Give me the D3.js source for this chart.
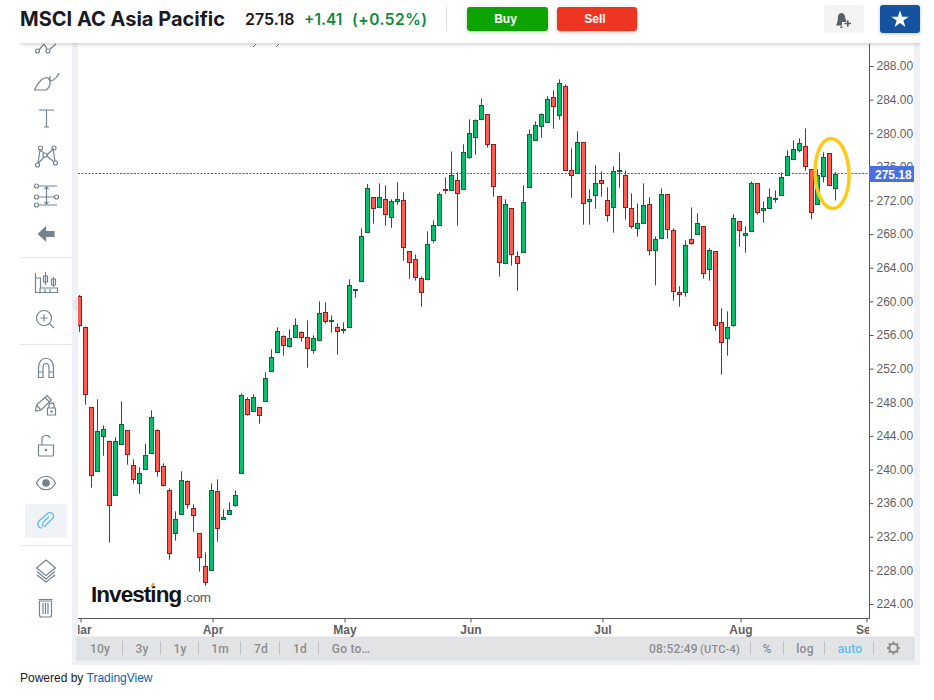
<!DOCTYPE html>
<html>
<head>
<meta charset="utf-8">
<script src="https://cdnjs.cloudflare.com/ajax/libs/d3/7.8.5/d3.min.js"></script>
<style>
  html, body { margin: 0; padding: 0; background: #fff; }
  svg { display: block; }
</style>
</head>
<body>
<script>
let w = 934;
let h = 700;

let open = [260.60,256.91,247.39,239.78,243.94,243.35,236.93,242.99,244.66,240.49,238.35,240.02,241.92,244.66,240.38,237.52,232.41,234.67,238.59,235.38,232.41,228.48,228.00,237.40,234.07,234.67,235.74,239.54,248.35,246.92,247.39,248.11,251.68,
  253.94,255.84,254.65,255.72,256.31,255.72,254.17,255.36,258.69,257.62,256.91,256.55,256.91,261.31,262.38,268.21,272.37,271.18,272.14,269.99,271.90,272.02,265.95,265.00,262.74,262.62,267.26,269.04,
  273.32,273.21,274.40,273.32,277.13,279.51,281.65,282.25,278.68,272.49,264.52,271.06,265.35,265.83,273.56,279.15,280.82,281.29,284.27,282.13,285.58,275.58,275.23,278.92,271.90,272.61,274.40,272.02,271.18,275.55,274.99,271.06,268.69,
  269.28,271.54,266.07,267.50,272.73,268.45,261.07,261.07,267.38,267.97,268.92,263.81,265.95,257.50,255.60,257.15,269.52,267.85,268.33,274.04,270.83,271.06,272.21,272.61,274.99,276.89,277.96,278.44,275.70,271.54,274.87,277.61,273.56];
let high = [260.76,257.03,247.39,248.35,245.25,243.43,243.83,248.11,244.66,241.21,240.26,243.03,247.04,244.78,240.73,237.76,235.02,239.78,238.71,235.86,232.41,230.15,238.35,238.83,235.26,236.09,237.52,249.06,248.58,248.94,247.39,251.56,254.29,
  256.91,255.96,256.67,257.98,256.43,257.74,255.96,260.00,259.88,258.34,257.39,257.50,262.62,261.43,268.69,273.96,272.37,274.04,273.80,272.14,274.16,272.97,265.95,265.59,262.98,268.33,269.64,272.97,
  274.75,277.84,275.35,278.68,281.65,281.65,284.15,282.25,278.68,272.49,272.14,271.06,265.95,273.80,280.46,281.41,282.36,284.39,285.10,286.41,285.81,278.20,280.22,278.92,273.32,276.18,275.47,273.56,276.06,277.73,275.58,272.85,271.66,
  274.04,272.37,267.73,273.44,272.73,268.69,261.79,267.26,271.18,270.47,268.92,266.31,265.95,259.17,258.81,270.35,269.52,268.92,274.28,274.04,271.90,273.44,273.21,275.35,277.96,279.15,279.39,280.58,275.70,275.70,277.73,277.61,275.35];
let low = [256.39,247.71,237.84,239.78,241.64,231.30,236.93,242.99,240.57,238.31,237.12,240.02,241.92,239.15,237.96,229.27,231.53,234.67,235.34,232.60,227.85,226.18,228.00,231.41,234.07,234.67,235.58,239.54,246.40,246.92,245.45,248.11,251.68,
  253.94,253.54,254.49,255.72,255.20,252.11,253.78,255.36,257.35,256.28,253.66,256.16,256.91,260.44,262.38,268.21,269.24,271.18,269.00,268.76,271.50,264.84,262.70,262.46,259.37,262.62,266.98,269.04,
  272.81,273.21,269.00,273.32,276.97,277.45,281.65,278.28,272.45,262.94,264.52,264.25,261.27,265.83,273.56,279.15,279.47,281.29,280.54,281.61,275.58,272.33,275.23,269.12,269.12,271.02,272.45,269.48,268.17,273.52,269.72,268.65,267.69,
  269.28,265.47,261.91,267.50,267.46,260.08,259.37,260.56,266.74,267.97,262.70,262.46,256.51,251.28,253.54,256.99,266.50,265.79,268.33,270.31,269.36,271.06,271.74,272.61,274.99,276.89,277.73,275.55,269.76,271.54,274.16,273.80,272.02];
let close = [257.15,248.94,239.30,244.54,244.78,235.74,243.35,245.37,241.80,238.83,239.54,241.68,246.20,239.78,238.12,230.03,234.07,238.71,235.86,234.55,229.55,226.58,237.52,233.00,234.31,235.14,236.93,248.82,246.56,248.58,246.44,250.84,253.34,
  256.43,254.77,255.60,257.15,255.72,254.41,255.60,258.57,257.62,257.74,256.43,256.67,261.91,261.43,267.73,273.44,271.06,272.37,270.35,271.90,272.14,266.43,264.64,262.86,261.07,266.78,269.04,272.73,
  273.21,274.99,272.85,277.73,279.99,281.53,283.32,278.68,273.68,264.64,271.54,265.59,264.52,271.78,279.87,280.94,282.25,284.03,283.20,285.93,275.58,274.99,278.92,271.66,272.14,274.04,274.04,270.23,275.47,275.58,271.18,268.92,269.28,
  271.42,266.07,267.38,272.73,268.57,261.19,260.83,266.66,266.90,269.28,263.33,266.07,257.15,255.13,256.91,269.88,268.45,268.09,274.04,270.59,271.06,272.37,272.25,274.75,277.25,278.08,278.80,276.06,270.59,274.99,277.13,273.80,275.18];

let priceTicks = [224,228,232,236,240,244,248,252,256,260,264,268,272,276,280,284,288];
let monthLabels = ["Mar","Apr","May","Jun","Jul","Aug","Sep"];
let monthIndex = [0,22,44,65,87,110,131];
let rangeButtons = ["10y","3y","1y","1m","7d","1d","Go to…"];
let rangeCenters = [100,142,180,220,261,300,351];
let rangeSeps = [122.5,160.5,198.5,240.5,279.5,318.5];
let lastPrice = 275.18;

let sansFont = "'Liberation Sans', Arial, sans-serif";
let upFill = "#04c06b", upLine = "#12603e";
let downFill = "#ff5b50", downLine = "#8c1f20";
let iconColor = "#75838f";

let svg = d3.select("body").append("svg").attr("width", w).attr("height", h);
let defs = svg.append("defs");

let shadow = defs.append("filter").attr("id", "shadow").attr("x", "-5%").attr("y", "-20%").attr("width", "110%").attr("height", "160%");
shadow.append("feDropShadow").attr("dx", 0).attr("dy", 1).attr("stdDeviation", 2).attr("flood-color", "#000").attr("flood-opacity", 0.22);

defs.append("clipPath").attr("id", "plot").append("rect").attr("x", 78).attr("y", 44).attr("width", 791).attr("height", 574);
defs.append("clipPath").attr("id", "timeStrip").append("rect").attr("x", 77).attr("y", -6).attr("width", 791).attr("height", 26);

// chart frame
svg.append("rect").attr("x", 72).attr("y", 40).attr("width", 848).attr("height", 625).attr("fill", "#eff1f6");
svg.append("rect").attr("x", 78).attr("y", 40).attr("width", 836).attr("height", 597).attr("fill", "#fff");
svg.append("rect").attr("x", 77).attr("y", 637).attr("width", 837).attr("height", 23).attr("fill", "#e2e3e5").attr("stroke", "#d6d8dc").attr("stroke-width", 0.6);

let xScale = d3.scaleLinear().domain([0, open.length - 1]).range([79.5, 835.5]);
let yScale = d3.scaleLinear().domain([224, 288]).range([604, 66]);

// last price line
svg.append("line")
  .attr("x1", 78).attr("x2", 869)
  .attr("y1", Math.floor(yScale(lastPrice)) + 0.5).attr("y2", Math.floor(yScale(lastPrice)) + 0.5)
  .attr("stroke", "#3f5fd0").attr("stroke-width", 1).attr("stroke-dasharray", "2,1.5");

// candles
let candles = svg.append("g").attr("clip-path", "url(#plot)")
  .selectAll("g").data(open).enter().append("g");

candles.append("line")
  .attr("x1", (d, i) => xScale(i)).attr("x2", (d, i) => xScale(i))
  .attr("y1", (d, i) => yScale(high[i])).attr("y2", (d, i) => yScale(low[i]))
  .attr("stroke", upLine).attr("stroke-width", 1);

candles.append("rect")
  .attr("x", (d, i) => xScale(i) - 2)
  .attr("y", (d, i) => Math.round(yScale(Math.max(d, close[i]))) + 0.5)
  .attr("width", 4)
  .attr("height", (d, i) => Math.max(1, Math.round(Math.abs(yScale(d) - yScale(close[i])))))
  .attr("fill", (d, i) => (close[i] >= d ? upFill : downFill))
  .attr("stroke", (d, i) => (close[i] >= d ? upLine : downLine))
  .attr("stroke-width", 1);

// hand drawn ring round the last candles
svg.append("ellipse")
  .attr("cx", 832).attr("cy", 173.5).attr("rx", 17).attr("ry", 35)
  .attr("fill", "none").attr("stroke", "#fdcb16").attr("stroke-width", 3.5)
  .attr("transform", "rotate(-2 832 173.5)");

// axes
let yAxis = d3.axisRight(yScale).tickValues(priceTicks).tickSize(4).tickPadding(3).tickFormat((d) => d.toFixed(2));
let gy = svg.append("g").attr("transform", "translate(869.5,0)").call(yAxis);
gy.select(".domain").remove();
gy.selectAll("line").attr("stroke", "#555");
gy.selectAll("text").attr("fill", "#5f5f5f").style("font-family", sansFont).style("font-size", "12px");
svg.append("line").attr("x1", 869.5).attr("x2", 869.5).attr("y1", 44).attr("y2", 618.5).attr("stroke", "#555");

let xAxis = d3.axisBottom(xScale).tickValues(monthIndex).tickSize(4).tickPadding(3).tickFormat((d, i) => monthLabels[i]);
let gx = svg.append("g").attr("transform", "translate(1,618.5)").attr("clip-path", "url(#timeStrip)").call(xAxis);
gx.select(".domain").remove();
gx.selectAll("line").attr("stroke", "#555");
gx.selectAll("text").attr("fill", "#5f5f5f").style("font-family", sansFont).style("font-size", "12px").style("font-weight", "bold");
svg.append("line").attr("x1", 78).attr("x2", 869.5).attr("y1", 618.5).attr("y2", 618.5).attr("stroke", "#555");

// price label
svg.append("rect").attr("x", 869).attr("y", 166).attr("width", 45).attr("height", 16).attr("fill", "#4a6fe3");
svg.append("text").attr("x", 875).attr("y", 178.5).attr("fill", "#fff")
  .style("font-family", sansFont).style("font-size", "12px").style("font-weight", "bold")
  .text(lastPrice.toFixed(2));

// logo
svg.append("text").attr("x", 91).attr("y", 602).attr("fill", "#141414")
  .style("font-family", sansFont).style("font-size", "22.5px").style("font-weight", "bold").style("letter-spacing", "-0.95px")
  .text("Investing");
svg.append("text").attr("x", 183).attr("y", 602).attr("fill", "#555")
  .style("font-family", sansFont).style("font-size", "13.5px").style("letter-spacing", "-0.4px")
  .text(".com");
svg.append("path").attr("d", "M150.5 586.5 L152.5 583 L155 583.5 L153 587 Z").attr("fill", "#f7a823");

// time strip buttons
let stripText = (x, t, color, anchor, size) =>
  svg.append("text").attr("x", x).attr("y", 652.5).attr("text-anchor", anchor || "middle").attr("fill", color || "#8d8d8d")
    .style("font-family", "'Roboto', sans-serif").style("font-size", (size || 12) + "px").style("font-weight", "500").style("letter-spacing", "0.2px").text(t);

rangeButtons.forEach((t, i) => stripText(rangeCenters[i], t));
rangeSeps.concat([750.5, 783.5, 824.5, 873.5]).forEach((x) =>
  svg.append("line").attr("x1", x).attr("x2", x).attr("y1", 641).attr("y2", 655).attr("stroke", "#bfc0c2"));
stripText(649, "08:52:49", "#8d8d8d", "start");
stripText(700, "(UTC-4)", "#8d8d8d", "start", 11);
stripText(767, "%");
stripText(805, "log");
stripText(850, "auto", "#5cc1ea");

let gear = svg.append("g").attr("transform", "translate(893.5,648)");
gear.append("circle").attr("r", 4.2).attr("fill", "none").attr("stroke", "#8d8d8d").attr("stroke-width", 2);
d3.range(8).forEach((k) =>
  gear.append("line").attr("y1", -4.5).attr("y2", -6.5).attr("stroke", "#8d8d8d").attr("stroke-width", 2).attr("transform", "rotate(" + k * 45 + ")"));

// tiny leftovers of the cut off legend
svg.append("path").attr("d", "M253 47 L256 44 M276 47 L279 44").attr("stroke", "#777").attr("fill", "none");

// left tool bar
[257, 344, 545].forEach((y) =>
  svg.append("line").attr("x1", 20).attr("x2", 72).attr("y1", y + 0.5).attr("y2", y + 0.5).attr("stroke", "#e3e7ec"));
svg.append("rect").attr("x", 25).attr("y", 504).attr("width", 42).attr("height", 34).attr("rx", 2).attr("fill", "#f0f2f5");
svg.append("path").attr("d", "M78 297 A8 8 0 0 0 78 312 Z").attr("fill", "#e3e5ea");

let tool = svg.append("g").attr("fill", "none").attr("stroke", iconColor).attr("stroke-width", 1.2);
let iconPath = (d, color) => tool.append("path").attr("d", d).attr("stroke", color || iconColor);
let iconDot = (x, y, r) => tool.append("circle").attr("cx", x).attr("cy", y).attr("r", r);

// trend lines
iconDot(37.5, 51, 2); iconDot(48, 51, 2);
iconPath("M39 50 L44 44 M44 44 L47 49 M50 49 L56 44");
// brush
iconPath("M34.5 90 L46 90 C51 87 51 80 48 78 C44 76 38 82 34.5 90 Z M50 76 L50 81 C54 81 58 76 59 73");
// text
iconPath("M40 111 L40 110 L53 110 L53 111 M46.5 110 L46.5 127 M44 127 L49 127");
// pattern
iconDot(37.5, 165, 2); iconDot(40.5, 148, 2); iconDot(54, 148, 2); iconDot(55.5, 163, 2); iconDot(45, 155, 2);
iconPath("M38 163 L40 150 L44 153 M38.5 163 L44 157 M47 155 L53 149 L55 161 M47 156 L54 162");
// fib
iconDot(36.5, 186, 2); iconDot(36.5, 197, 2); iconDot(56.5, 197, 2); iconDot(36.5, 205, 2);
iconPath("M39 186 L57 186 M39 197 L54 197 M39 205 L57 205 M46.5 187 L46.5 204 M44.5 189 L46.5 187 L48.5 189 M44.5 202 L46.5 204 L48.5 202");
// back arrow
tool.append("path").attr("d", "M38.5 234 L45.5 227.5 L45.5 231.5 L54 231.5 L54 236.5 L45.5 236.5 L45.5 240.5 Z").attr("fill", iconColor);
// chart scale
iconPath("M35.5 273 L35.5 292.5 L57.5 292.5 L57.5 288 L40.5 288 L40.5 278 L35.5 278 M40 288 L40 292 M45 289 L45 292 M50 289 L50 292 M45.5 272 L45.5 285 M43.5 276 h4 v6 h-4 z M53.5 277 L53.5 287 M51.5 279 h4 v6 h-4 z");
// zoom
iconDot(44, 318, 7.5);
iconPath("M44 314.5 L44 321.5 M40.5 318 L47.5 318 M49.5 323.5 L54 328");
// magnet
iconPath("M38.5 377.5 L38.5 368 C38.5 355 53.5 355 53.5 368 L53.5 377.5 L49 377.5 L49 368 C49 362 43 362 43 368 L43 377.5 Z M38.5 372 L43 372 M49 372 L53.5 372");
// pencil and lock
iconPath("M35.5 411 L36.5 405 L47 395.5 L51.5 400 L41 410 Z M45 397.5 L49.5 402 M37 405.5 L40.5 409.5");
iconPath("M47.5 408 h8 v7 h-8 z M49 408 L49 405.5 C49 402 54 402 54 405.5 L54 408");
iconDot(51.5, 411.5, 0.6);
// open lock
iconPath("M38.5 445 h15 v10 a1 1 0 0 1 -1 1 h-13 a1 1 0 0 1 -1 -1 z M42 445 L42 439 C42 435 49 434 50 438");
iconDot(46, 450, 0.7);
// eye
iconPath("M36.5 483 C41 474 51 474 55.5 483 C51 492 41 492 36.5 483 Z");
tool.append("circle").attr("cx", 46).attr("cy", 483).attr("r", 3.2).attr("fill", iconColor);
// link
iconPath("M39.5 520.5 L47.5 513.5 C51 510.5 55.5 515 52.5 518.5 L45.5 525.5 C43.5 527.5 41 525 43 522.5 L49 516.5 M39.5 520.5 C36 524 38.5 529.5 42.5 527.5", "#5ab9ea");
// layers
iconPath("M46 560 L55.5 568 L46 575.5 L36.5 568 Z M37 571.5 L46 579 L55 571.5 M37 575 L46 582 L55 575");
// trash
iconPath("M39.5 601 L51.5 601 L51.5 615 a2 2 0 0 1 -2 2 L41.5 617 a2 2 0 0 1 -2 -2 Z M38.5 599.5 L52.5 599.5 M43 603 L43 614 M45.5 603 L45.5 614 M48 603 L48 614");

// header band
svg.append("rect").attr("x", 20).attr("y", 0).attr("width", 900).attr("height", 43).attr("fill", "#fff").attr("filter", "url(#shadow)");
svg.append("rect").attr("x", 0).attr("y", 0).attr("width", w).attr("height", 42.5).attr("fill", "#fff");
svg.append("line").attr("x1", 446.5).attr("x2", 446.5).attr("y1", 7).attr("y2", 31).attr("stroke", "#dcdcdc");

let headFont = "'Inter', 'Noto Sans', sans-serif";
svg.append("text").attr("x", 20).attr("y", 26).attr("fill", "#1a1a22")
  .style("font-family", headFont).style("font-size", "20px").style("font-weight", "700").text("MSCI AC Asia Pacific");
svg.append("text").attr("x", 245).attr("y", 25).attr("fill", "#1a1a22")
  .style("font-family", headFont).style("font-size", "16px").style("font-weight", "600").text("275.18");
svg.append("text").attr("x", 304).attr("y", 25).attr("fill", "#0d8a3c")
  .style("font-family", headFont).style("font-size", "15.5px").style("font-weight", "600").text("+1.41");
svg.append("text").attr("x", 352).attr("y", 25).attr("fill", "#0d8a3c")
  .style("font-family", headFont).style("font-size", "15.5px").style("font-weight", "600").style("letter-spacing", "0.5px").text("(+0.52%)");

let button = (x, bw, fill, label) => {
  svg.append("rect").attr("x", x).attr("y", 7).attr("width", bw).attr("height", 24).attr("rx", 3).attr("fill", fill).attr("filter", "url(#shadow)");
  svg.append("text").attr("x", x + bw / 2 - 2).attr("y", 23).attr("text-anchor", "middle").attr("fill", "#fff")
    .style("font-family", sansFont).style("font-size", "12px").style("font-weight", "bold").text(label);
};
button(467, 81, "#0ea300", "Buy");
button(557, 80, "#ee3524", "Sell");

svg.append("rect").attr("x", 824).attr("y", 5).attr("width", 40).attr("height", 28).attr("rx", 3).attr("fill", "#f4f4f5");
svg.append("path")
  .attr("d", "M836 25.5 C838 22 837.5 20 838 16.5 C838.5 12.5 843 12 844.5 15 C845.5 17 845.5 20 846.5 22 L842 22 L842 25.5 Z M840 26.5 L843 26.5 L842 28 L840.5 28 Z")
  .attr("fill", "#5a6068");
svg.append("path").attr("d", "M844.5 23.5 L851 23.5 M847.8 20.2 L847.8 26.8").attr("stroke", "#5a6068").attr("stroke-width", 1.6).attr("fill", "none");

svg.append("rect").attr("x", 880).attr("y", 5).attr("width", 40).attr("height", 28).attr("rx", 3).attr("fill", "#12529f").attr("filter", "url(#shadow)");
svg.append("path").attr("d", d3.symbol(d3.symbolStar, 95)()).attr("transform", "translate(900,19.5)").attr("fill", "#fff");

// footer
let powered = svg.append("text").attr("x", 20).attr("y", 682).attr("fill", "#1c1c1c")
  .style("font-family", sansFont).style("font-size", "12px");
powered.append("tspan").text("Powered by ");
powered.append("tspan").attr("fill", "#0b62a8").text("TradingView");
</script>
</body>
</html>
